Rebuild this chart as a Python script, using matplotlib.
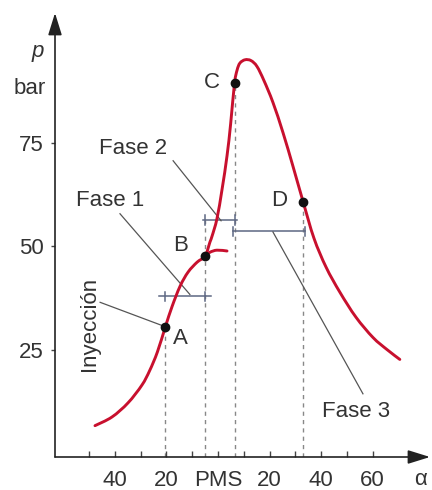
import matplotlib
matplotlib.use('Agg')
import matplotlib.pyplot as plt
import numpy as np
from matplotlib.path import Path
from matplotlib.patches import PathPatch

plt.rcParams['font.family'] = ['Liberation Sans', 'DejaVu Sans']

# crank angle (deg, PMS = 0) and pressure (bar)
alpha = [-47.7, -41.1, -34.9, -29.5, -26.5, -23.5, -20.4, -17.8, -14.7, -11.6,
         -8.1, -5.0, -3.1, -2.3, -0.4, 1.6, 3.5, 4.9, 6.4, 7.4, 8.5, 10.5, 12.8, 15.1,
         17.8, 21.3, 25.2, 29.1, 33.0, 37.2, 41.9, 47.3, 53.5, 60.1, 65.5, 70.5]
pres = [6.6, 8.7, 12.1, 16.4, 19.9, 24.4, 30.5, 35.4, 40.3, 43.7,
        46.1, 47.6, 51.0, 52.4, 56.6, 63.8, 71.8, 79.5, 89.3, 92.5, 94.2, 95.0, 94.8, 93.4,
        90.0, 84.7, 77.4, 69.2, 60.7, 51.9, 44.9, 38.8, 32.8, 27.9, 25.0, 22.6]

# curve without combustion after B
branch_alpha = [-5.0, -3.1, -0.4, 3.5]
branch_pres = [47.6, 48.5, 49.0, 48.8]

# marked points
pt_names = ['A', 'B', 'C', 'D']
pt_alpha = [-20.4, -5.0, 6.4, 33.0]
pt_pres = [30.5, 47.6, 89.3, 60.7]
pt_label_pos = [(-14.7, 27.7), (-14.7, 50.2), (-2.3, 89.6), (23.6, 60.9)]

# phase brackets: (start, end, level)
phases = {
    'Fase 1': (-23.0, -2.7, 37.9),
    'Fase 2': (-5.8, 7.4, 56.3),
    'Fase 3': (5.8, 33.7, 53.6),
}

xticks = [-50, -40, -30, -20, -10, 0, 10, 20, 30, 40, 50, 60]
xticklabels = ['', '40', '', '20', '', 'PMS', '', '20', '', '40', '', '60']
yticks = [25, 50, 75]

red = '#c8102e'
bracket = '#5d6782'
txt = '#333333'
fs = 16


def smooth_path(xs, ys):
    # Catmull-Rom through the read points, drawn as cubic bezier segments
    P = np.column_stack([xs, ys])
    verts = [P[0]]
    codes = [Path.MOVETO]
    n = len(P)
    for i in range(n - 1):
        p0 = P[i - 1] if i > 0 else P[i]
        p1, p2 = P[i], P[i + 1]
        p3 = P[i + 2] if i + 2 < n else P[i + 1]
        verts += [p1 + (p2 - p0) / 6, p2 - (p3 - p1) / 6, p2]
        codes += [Path.CURVE4] * 3
    return Path(verts, codes)


fig = plt.figure(figsize=(4.32, 4.90), dpi=100)
ax = fig.add_axes([55 / 432, 33 / 490, 375 / 432, 444 / 490])
ax.set_xlim(-63.2, 82.2)
ax.set_ylim(-0.97, 106.3)

# dashed guides
for xa, top in zip(pt_alpha, [pt_pres[0], phases['Fase 2'][2], pt_pres[2], pt_pres[3]]):
    ax.plot([xa, xa], [-0.97, top], ls=(0, (3, 3)), color='#888888', lw=1, zorder=1)

# brackets
for name, (x0, x1, lvl) in phases.items():
    ax.plot([x0, x1], [lvl, lvl], color=bracket, lw=1.1, zorder=2)
ax.plot([-20.4, -20.4], [36.6, 39.0], color=bracket, lw=1.1)
ax.plot([-5.0, -5.0], [36.6, 39.0], color=bracket, lw=1.1)
ax.plot([-5.0, -5.0], [55.0, 57.4], color=bracket, lw=1.1)
ax.plot([6.4, 6.4], [55.0, 57.4], color=bracket, lw=1.1)
ax.plot([5.8, 5.8], [52.5, 54.7], color=bracket, lw=1.1)
ax.plot([33.7, 33.7], [52.5, 54.7], color=bracket, lw=1.1)

# leader lines
leaders = [((-17.4, 70.6), (1.2, 56.1)),
           ((-38.0, 57.8), (-10.9, 38.3)),
           ((-45.7, 36.4), (-20.4, 30.5)),
           ((21.3, 53.4), (56.2, 14.3))]
for (xa, ya), (xb, yb) in leaders:
    ax.plot([xa, xb], [ya, yb], color='#555555', lw=0.9, zorder=2)

# pressure curve
ax.add_patch(PathPatch(smooth_path(alpha, pres), fill=False, edgecolor=red, lw=2.1,
                       capstyle='round', zorder=3))
ax.add_patch(PathPatch(smooth_path(branch_alpha, branch_pres), fill=False, edgecolor=red,
                       lw=2.1, capstyle='round', zorder=3))
ax.plot(pt_alpha, pt_pres, 'o', color='#111111', ms=6, zorder=4)

for name, (tx, ty) in zip(pt_names, pt_label_pos):
    ax.text(tx, ty, name, fontsize=fs, color=txt, ha='center', va='center')

ax.text(-32.9, 73.5, 'Fase 2', fontsize=fs, color=txt, ha='center', va='center')
ax.text(-41.9, 60.9, 'Fase 1', fontsize=fs, color=txt, ha='center', va='center')
ax.text(53.5, 10.0, 'Fase 3', fontsize=fs, color=txt, ha='center', va='center')
ax.text(-50.0, 31.1, 'Inyección', fontsize=fs, color=txt, ha='center', va='center',
        rotation=90)

ax.text(-69.8, 97.1, 'p', fontsize=fs, style='italic', color=txt,
        ha='center', va='center', clip_on=False)
ax.text(-72.9, 88.1, 'bar', fontsize=fs, color=txt, ha='center', va='center',
        clip_on=False)
ax.text(78.5, -6.5, 'α', fontsize=fs, color=txt, ha='center', va='center',
        clip_on=False)

# axes with arrow heads
for s in ax.spines.values():
    s.set_visible(False)
for tip in [(0, 1), (1, 0)]:
    ax.annotate('', xy=tip, xytext=(0, 0), xycoords='axes fraction',
                arrowprops=dict(arrowstyle='-|>,head_length=1.35,head_width=0.42',
                                color='#222222', lw=1.2, shrinkA=0, shrinkB=0,
                                mutation_scale=10))

ax.set_xticks(xticks)
ax.set_xticklabels(xticklabels)
ax.set_yticks(yticks)
ax.tick_params(axis='x', direction='in', length=4, width=1, color='#444444',
               labelsize=fs, labelcolor=txt, pad=9)
ax.tick_params(axis='y', direction='out', length=3, width=1, color='#444444',
               labelsize=fs, labelcolor=txt, pad=5)

fig.savefig('out.png', dpi=100)
